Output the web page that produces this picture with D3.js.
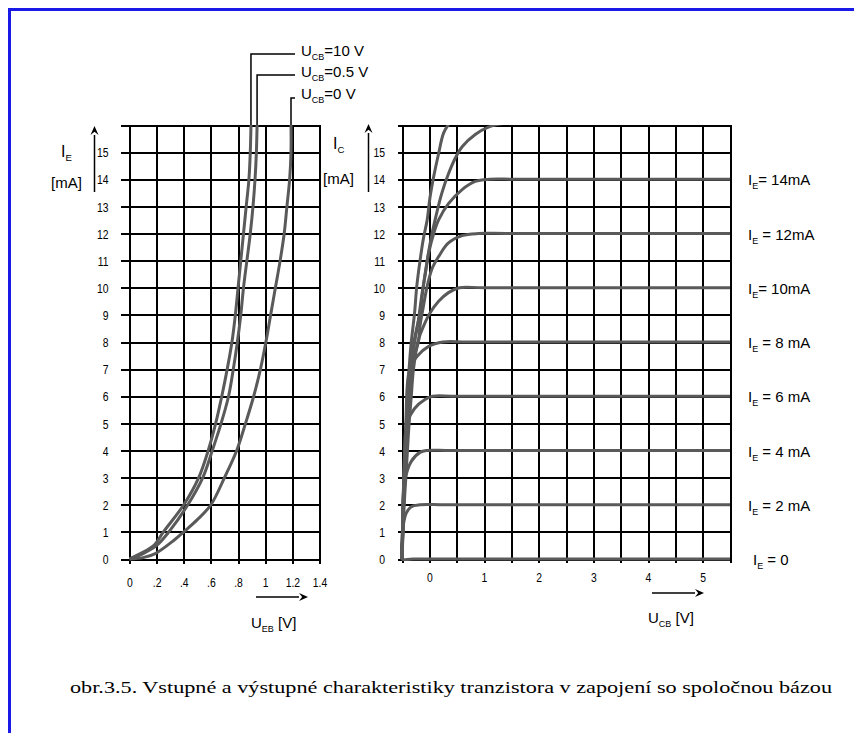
<!DOCTYPE html>
<html>
<head>
<meta charset="utf-8">
<script src="https://cdn.jsdelivr.net/npm/d3@7"></script>
<style>
  html, body { margin: 0; padding: 0; background: #fff; }
  svg { display: block; }
  text { font-family: "Liberation Sans", Arial, sans-serif; fill: #000; white-space: pre; }
  .caption { font-family: "Liberation Serif", "Times New Roman", serif; }
</style>
</head>
<body>
<div id="chart"></div>
<script>
// ---- data: input characteristics I_E = f(U_EB), one series per U_CB ----
const inputCurveNames = ['=10 V', '=0.5 V', '=0 V'];
const inputUcb10 = [[0, 0], [0.08, 0.2], [0.18, 0.5], [0.25, 1], [0.4, 2], [0.51, 3], [0.58, 4], [0.635, 5],
  [0.68, 6], [0.72, 7], [0.755, 8], [0.78, 9], [0.8, 10], [0.82, 11], [0.84, 12], [0.86, 13],
  [0.88, 14], [0.89, 15], [0.895, 16]];
const inputUcb05 = [[0, 0], [0.1, 0.2], [0.2, 0.5], [0.29, 1], [0.43, 2], [0.54, 3], [0.61, 4], [0.675, 5],
  [0.73, 6], [0.765, 7], [0.795, 8], [0.82, 9], [0.84, 10], [0.865, 11], [0.89, 12], [0.91, 13],
  [0.925, 14], [0.935, 15], [0.94, 16]];
const inputUcb0 = [[0, 0], [0.1, 0.05], [0.19, 0.2], [0.33, 0.7], [0.4, 1], [0.5, 1.45], [0.6, 2],
  [0.7, 3], [0.79, 4], [0.855, 5], [0.915, 6], [0.965, 7], [1.005, 8], [1.04, 9],
  [1.075, 10], [1.11, 11], [1.14, 12], [1.16, 13], [1.18, 14], [1.19, 15], [1.19, 16]];

// ---- data: output characteristics I_C = f(U_CB), one series per I_E ----
const outIe0 = [[-0.5, 0.6], [-0.5, 0], [-0.3, 0], [5.5, 0]];
const outIe2 = [[-0.5, 0], [-0.5, 0.6], [-0.48, 1.2], [-0.42, 1.7], [-0.33, 1.93], [-0.17, 2], [0.3, 2], [5.5, 2]];
const outIe4 = [[-0.5, 0], [-0.49, 1.2], [-0.48, 2.3], [-0.45, 2.9], [-0.33, 3.6], [-0.17, 3.93], [-0.05, 4],
  [0.4, 4], [5.5, 4]];
const outIe6 = [[-0.5, 0], [-0.48, 2], [-0.45, 4], [-0.41, 5.0], [-0.27, 5.55], [-0.08, 5.88], [0.06, 6],
  [0.5, 6], [5.5, 6]];
const outIe8 = [[-0.5, 0], [-0.47, 2.5], [-0.43, 5], [-0.36, 7.0], [-0.21, 7.5], [-0.02, 7.83], [0.25, 8],
  [0.7, 8], [5.5, 8]];
const outIe10 = [[-0.5, 0], [-0.48, 1], [-0.46, 2], [-0.43, 3], [-0.4, 4], [-0.37, 5], [-0.33, 6], [-0.29, 7],
  [-0.2, 8.08], [-0.11, 8.57], [0.01, 9.06], [0.17, 9.5], [0.35, 9.82], [0.55, 10], [1.0, 10], [5.5, 10]];
const outIe12 = [[-0.5, 0], [-0.47, 2], [-0.42, 4], [-0.36, 6], [-0.27, 7.5], [-0.2, 8], [-0.17, 8.6],
  [-0.11, 9.3], [-0.04, 10.05], [0.05, 10.7], [0.17, 11.15], [0.35, 11.65], [0.6, 11.92], [0.9, 12],
  [1.4, 12], [5.5, 12]];
const outIe14 = [[-0.5, 0], [-0.47, 2], [-0.42, 4], [-0.36, 6], [-0.3, 7.5], [-0.26, 8.1], [-0.2, 8.8],
  [-0.14, 9.7], [-0.07, 10.55], [-0.01, 11.3], [0.08, 12], [0.17, 12.5], [0.35, 13.1], [0.6, 13.62],
  [0.84, 13.92], [1.1, 14], [1.6, 14], [5.5, 14]];
const outIe16 = [[-0.5, 0], [-0.47, 2], [-0.43, 4], [-0.38, 6], [-0.3, 7.8], [-0.17, 9.07], [-0.11, 10.05],
  [-0.04, 11], [0.05, 12], [0.14, 12.8], [0.23, 13.5], [0.35, 14.2], [0.48, 14.8], [0.6, 15.2],
  [0.84, 15.65], [1.08, 15.92], [1.34, 16.05]];
const outIe18 = [[-0.5, 0], [-0.48, 2], [-0.44, 4], [-0.4, 6], [-0.34, 7.8], [-0.27, 9.07], [-0.23, 10.05],
  [-0.17, 11], [-0.11, 11.8], [-0.04, 12.5], [0.01, 13.3], [0.08, 14.1], [0.17, 14.95], [0.26, 15.7], [0.36, 16.05]];

const outLabelLevels = [14, 12, 10, 8, 6, 4, 2, 0];
const outLabelTexts = ['= 14mA', ' = 12mA', '= 10mA', ' = 8 mA', ' = 6 mA', ' = 4 mA', ' = 2 mA', ' = 0'];

// ---- ticks ----
const yGridValues = [0, 1, 2, 3, 4, 5, 6, 7, 8, 9, 10, 11, 12, 13, 14, 15, 16];
const yLabelValues = [0, 1, 2, 3, 4, 5, 6, 7, 8, 9, 10, 11, 12, 13, 14, 15];
const inXTicks = [0, 0.2, 0.4, 0.6, 0.8, 1, 1.2, 1.4];
const inXTickLabels = ['0', '.2', '.4', '.6', '.8', '1', '1.2', '1.4'];
const outXGrid = [-0.5, 0, 0.5, 1, 1.5, 2, 2.5, 3, 3.5, 4, 4.5, 5, 5.5];
const outXLabelValues = [0, 1, 2, 3, 4, 5];

const captionText = 'obr.3.5. Vstupné a výstupné charakteristiky tranzistora v zapojení so spoločnou bázou';

const W = 854, H = 733;
const CURVE_COLOR = '#5a5a5a';
const LABEL_SX = 0.8; // tick labels in the scan are narrow

const svg = d3.select('#chart').append('svg').attr('width', W).attr('height', H);

// blue frame (left and top edges only)
svg.append('path')
  .attr('d', `M9.5,${H} V9.5 H${W}`)
  .attr('fill', 'none').attr('stroke', '#1a1ae8').attr('stroke-width', 3);

const yScale = d3.scaleLinear().domain([0, 16]).range([559, 125]);
const xIn = d3.scaleLinear().domain([0, 1.4]).range([129.5, 319.5]);
const xOut = d3.scaleLinear().domain([-0.5, 5.5]).range([402, 730]);

function styleLines(sel, width) {
  sel.selectAll('line')
    .attr('stroke', '#000')
    .attr('stroke-width', width)
    .attr('shape-rendering', 'crispEdges');
}

function drawPanel(id, x, xGrid, xLabels, xLabelFmt, opts) {
  const g = svg.append('g').attr('class', id);
  const [x0, x1] = x.range();
  const [yb, yt] = yScale.range();

  // grid
  g.append('g').attr('transform', `translate(0,${yb})`)
    .call(d3.axisBottom(x).tickValues(xGrid).tickSize(-(yb - yt)).tickFormat(''))
    .call(a => a.select('.domain').remove())
    .call(a => styleLines(a, 2));
  g.append('g').attr('transform', `translate(${x0},0)`)
    .call(d3.axisLeft(yScale).tickValues(yGridValues).tickSize(-(x1 - x0)).tickFormat(''))
    .call(a => a.select('.domain').remove())
    .call(a => styleLines(a, 2));

  // outside ticks + labels, y
  g.append('g').attr('transform', `translate(${x0},0)`)
    .call(d3.axisLeft(yScale).tickValues(yGridValues).tickSize(opts.yTick)
      .tickFormat(d => (yLabelValues.includes(d) ? d : '')))
    .call(a => a.select('.domain').remove())
    .call(a => styleLines(a, 2))
    .call(a => a.selectAll('text')
      .attr('font-size', 13)
      .attr('transform', `scale(${LABEL_SX},1)`)
      .attr('x', -(opts.yTick + opts.yPad) / LABEL_SX)
      .attr('dy', '0.36em'));

  // outside ticks + labels, x
  g.append('g').attr('transform', `translate(0,${yb})`)
    .call(d3.axisBottom(x).tickValues(xGrid).tickSize(opts.xTick).tickPadding(opts.xPad)
      .tickFormat(d => (xLabels.includes(d) ? xLabelFmt(d) : '')))
    .call(a => a.select('.domain').remove())
    .call(a => styleLines(a, 2))
    .call(a => a.selectAll('text')
      .attr('font-size', 13)
      .attr('transform', `scale(${LABEL_SX},1)`));

  // clip for curves
  svg.append('clipPath').attr('id', `clip-${id}`)
    .append('rect')
    .attr('x', x0 - 2).attr('y', yt).attr('width', x1 - x0 + 2).attr('height', yb - yt + 2);

  return g;
}

function drawCurves(g, id, x, series) {
  const line = d3.line()
    .x(d => x(d[0]))
    .y(d => yScale(d[1]))
    .curve(d3.curveCatmullRom.alpha(0.5));
  g.append('g').attr('clip-path', `url(#clip-${id})`)
    .selectAll('path')
    .data(series)
    .join('path')
    .attr('d', line)
    .attr('fill', 'none')
    .attr('stroke', CURVE_COLOR)
    .attr('stroke-width', 3)
    .attr('stroke-linejoin', 'round');
}

// label with a subscript: main, sub, rest
function subLabel(parent, px, py, main, sub, rest, size) {
  const t = parent.append('text').attr('x', px).attr('y', py).attr('font-size', size);
  t.append('tspan').text(main);
  t.append('tspan').attr('font-size', size * 0.6).attr('dy', size * 0.28).text(sub);
  if (rest) t.append('tspan').attr('dy', -size * 0.28).text(rest);
  return t;
}

function arrow(parent, x1, y1, x2, y2) {
  const ang = Math.atan2(y2 - y1, x2 - x1);
  const L = 9, w = 4;
  const bx = x2 - L * Math.cos(ang), by = y2 - L * Math.sin(ang);
  const nx = -Math.sin(ang) * w, ny = Math.cos(ang) * w;
  parent.append('line').attr('x1', x1).attr('y1', y1).attr('x2', bx).attr('y2', by)
    .attr('stroke', '#000').attr('stroke-width', 1.5);
  parent.append('path')
    .attr('d', `M${x2},${y2} L${bx + nx},${by + ny} L${bx + L * 0.35 * Math.cos(ang)},${by + L * 0.35 * Math.sin(ang)} L${bx - nx},${by - ny} Z`)
    .attr('fill', '#000');
}

// ---- left panel: input characteristics ----
const gIn = drawPanel('in', xIn, inXTicks, inXTicks, d => inXTickLabels[inXTicks.indexOf(d)],
  { yTick: 9, yPad: 12, xTick: 5, xPad: 14 });
const inputSeries = [inputUcb10, inputUcb05, inputUcb0];
drawCurves(gIn, 'in', xIn, inputSeries);

// pointer lines from curve tops to their U_CB labels
const pointerY = [54, 75, 98];
const labelY = [56, 77, 99];
inputSeries.forEach((s, i) => {
  const xe = xIn(s[s.length - 1][0]);
  gIn.append('path')
    .attr('d', `M${xe},${yScale(16)} V${pointerY[i]} H295`)
    .attr('fill', 'none').attr('stroke', '#000').attr('stroke-width', 1.5);
  subLabel(gIn, 301, labelY[i], 'U', 'CB', inputCurveNames[i], 15);
});

arrow(gIn, 94.5, 192, 94.5, 126);
subLabel(gIn, 61, 157, 'I', 'E', null, 16);
gIn.append('text').attr('x', 51).attr('y', 188).attr('font-size', 15).text('[mA]');
arrow(gIn, 256, 597, 308, 597);
subLabel(gIn, 251, 628, 'U', 'EB', ' [V]', 15);

// ---- right panel: output characteristics ----
const gOut = drawPanel('out', xOut, outXGrid, outXLabelValues, d => d,
  { yTick: 4, yPad: 13, xTick: 4, xPad: 10 });
drawCurves(gOut, 'out', xOut, [outIe0, outIe2, outIe4, outIe6, outIe8, outIe10, outIe12, outIe14, outIe16, outIe18]);

arrow(gOut, 368.5, 192, 368.5, 124);
subLabel(gOut, 333, 149, 'I', 'C', null, 16);
gOut.append('text').attr('x', 323).attr('y', 184).attr('font-size', 15).text('[mA]');
arrow(gOut, 652, 593, 704, 593);
subLabel(gOut, 648, 623, 'U', 'CB', ' [V]', 15);

outLabelLevels.forEach((lv, i) => {
  subLabel(gOut, lv === 0 ? 753 : 748, yScale(lv) + 6, 'I', 'E', outLabelTexts[i], 15);
});

// ---- caption ----
svg.append('text')
  .attr('class', 'caption')
  .attr('x', 70).attr('y', 693)
  .attr('font-size', 17)
  .attr('textLength', 762)
  .attr('lengthAdjust', 'spacingAndGlyphs')
  .text(captionText);
</script>
</body>
</html>
